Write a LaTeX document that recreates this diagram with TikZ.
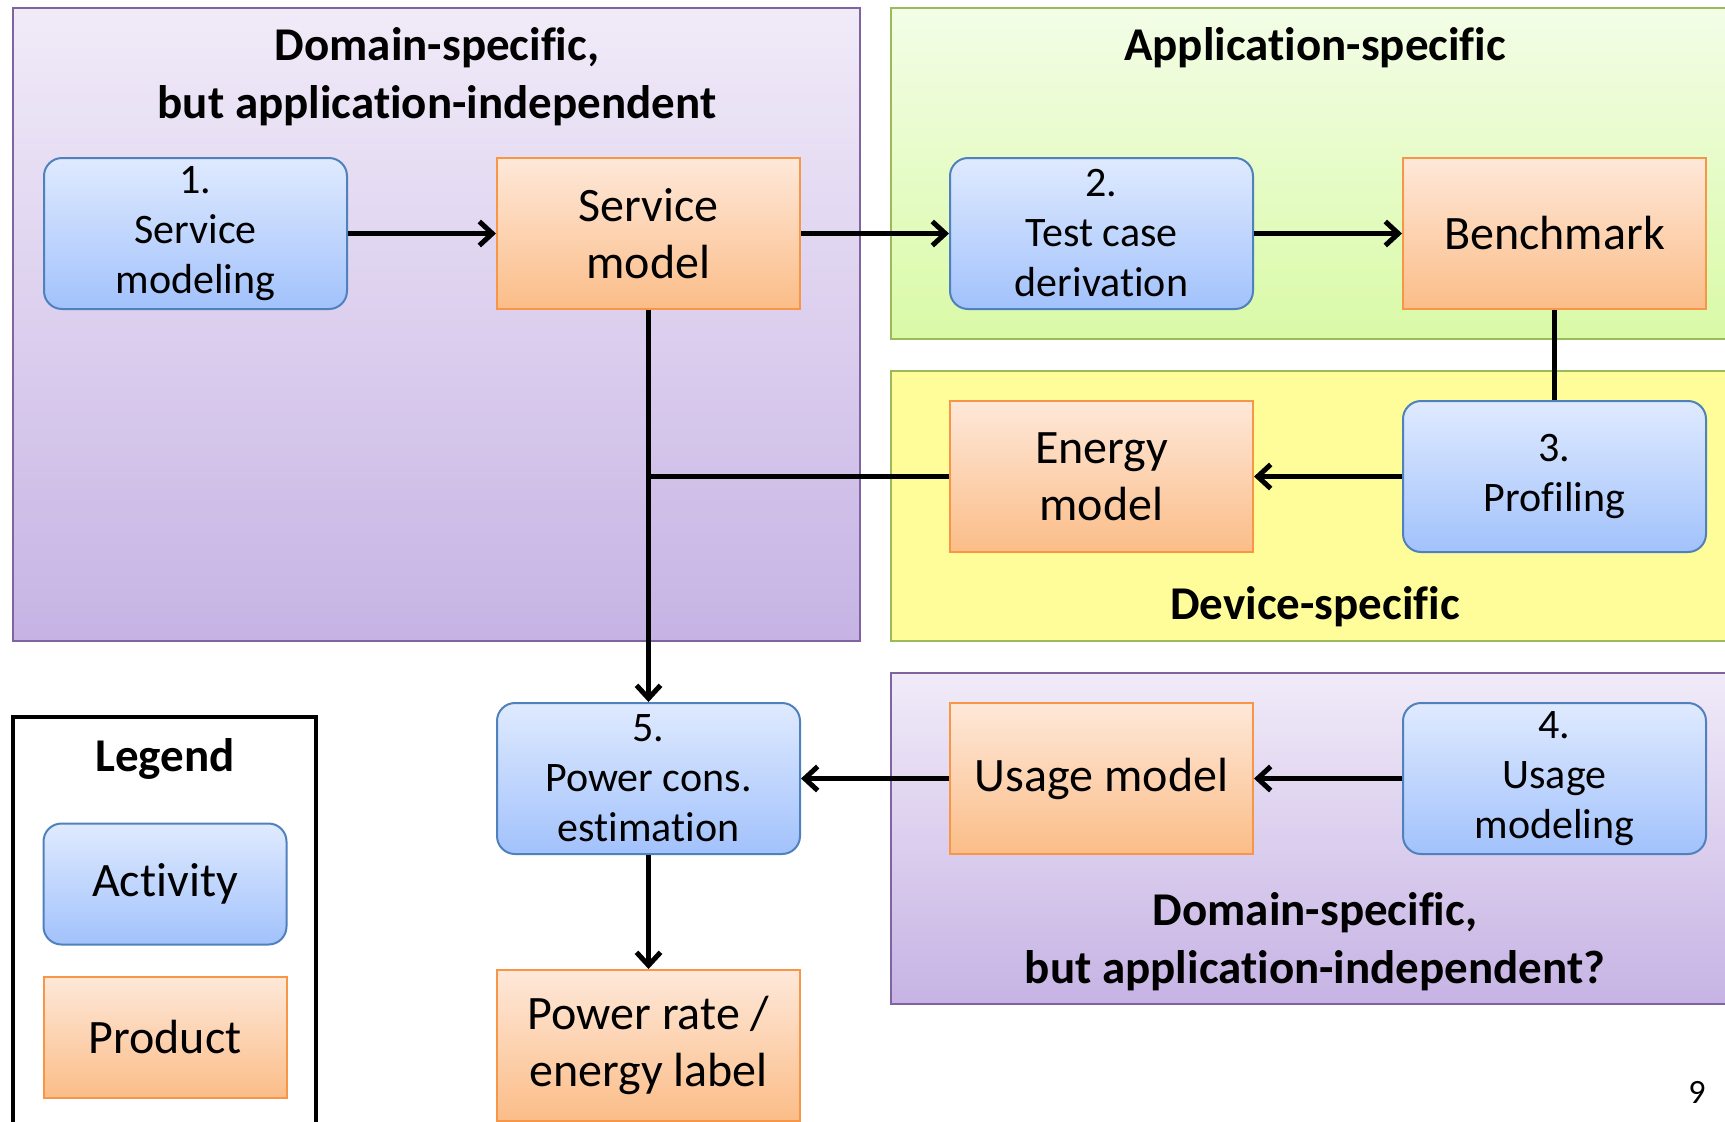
\documentclass[tikz,border=0pt]{standalone}
\usepackage{fontspec}
\setmainfont{Carlito}[Ligatures=NoCommon]
\usetikzlibrary{arrows.meta,positioning}
\definecolor{acttop}{HTML}{DFEAFE}
\definecolor{actbot}{HTML}{A2C2FC}
\definecolor{actline}{HTML}{4F81BD}
\definecolor{prodtop}{HTML}{FEE8D9}
\definecolor{prodbot}{HTML}{FBBD88}
\definecolor{prodline}{HTML}{F79646}
\definecolor{purptop}{HTML}{F1EBF8}
\definecolor{purpbot}{HTML}{C6B3E4}
\definecolor{purpline}{HTML}{8064A2}
\definecolor{greentop}{HTML}{F3FDE7}
\definecolor{greenbot}{HTML}{D9FAA6}
\definecolor{regline}{HTML}{9BBB59}
\definecolor{yellowfill}{HTML}{FEFD9A}
\tikzset{
  act/.style={draw=actline, line width=1pt, rounded corners=9pt, top color=acttop, bottom color=actbot,
    minimum width=151.5pt, minimum height=75.5pt, inner sep=0pt, align=center,
    font=\fontsize{21}{25}\selectfont},
  prod/.style={draw=prodline, line width=1pt, top color=prodtop, bottom color=prodbot,
    minimum width=151.5pt, minimum height=75.5pt, inner sep=0pt, align=center,
    font=\fontsize{24}{28.5}\selectfont},
  regtitle/.style={align=center, font=\bfseries\fontsize{23.5}{29}\selectfont},
  flow/.style={line width=2.5pt, -{Straight Barb[length=6.5pt,width=12pt]}},
  link/.style={line width=2.5pt}
}
\begin{document}
\begin{tikzpicture}[x=0.5pt, y=-0.5pt, node distance=45pt and 74pt]
  \clip (0,0) rectangle (1725,1121);
  \fill[white] (0,0) rectangle (1725,1121);

  \draw[draw=purpline, line width=1pt, top color=purptop, bottom color=purpbot] (13,8) rectangle (860,641);
  \draw[draw=regline, line width=1pt, top color=greentop, bottom color=greenbot] (891,8) rectangle (1740,339);
  \draw[draw=regline, line width=1pt, fill=yellowfill] (891,371) rectangle (1740,641);
  \draw[draw=purpline, line width=1pt, top color=purptop, bottom color=purpbot] (891,673) rectangle (1740,1004);
  \draw[line width=2pt] (13,1135) |- (316,717) -- (316,1135);

  \node[regtitle] (tdom) at (437,77) {Domain-specific,\\but application-independent};
  \node[regtitle] (tapp) at (1315,48) {Application-specific};
  \node[regtitle] (tdev) at (1315,607) {Device-specific};
  \node[regtitle] (tdomq) at (1315,942) {Domain-specific,\\but application-independent?};

  \node[act] (act1) at (195.5,233.5) {1.\\Service\\modeling};
  \node[prod, right=of act1] (smodel) {Service\\model};
  \node[act, right=of smodel] (act2) {2.\\Test case\\derivation};
  \node[prod, right=of act2] (bench) {Benchmark};
  \node[prod, below=of act2] (energy) {Energy\\model};
  \node[act, below=of bench] (act3) {3.\\Profiling};
  \node[act, below=196pt of smodel] (act5) {5.\\Power cons.\\estimation};
  \node[prod, right=of act5] (usage) {Usage model};
  \node[act, right=of usage] (act4) {4.\\Usage\\modeling};
  \node[prod, below=57pt of act5] (power) {Power rate /\\energy label};
  \coordinate (junc) at (smodel |- energy);

  \node[regtitle] (legend) at (165,759) {Legend};
  \node[act, minimum width=121.5pt, minimum height=60.5pt, font=\fontsize{24}{28.5}\selectfont] (legact) at (165,884) {Activity};
  \node[prod, minimum width=121.5pt, minimum height=60.5pt, below=15pt of legact] (legprod) {Product};

  \node[font=\fontsize{17}{20}\selectfont] (page) at (1697,1092) {9};

  \path[flow]
    (act1) edge (smodel)
    (smodel) edge (act2)
    (act2) edge (bench)
    (act3) edge (energy)
    (smodel) edge (act5)
    (usage) edge (act5)
    (act4) edge (usage)
    (act5) edge (power);
  \path[link]
    (bench) edge (act3)
    (energy) edge (junc);
\end{tikzpicture}
\end{document}
